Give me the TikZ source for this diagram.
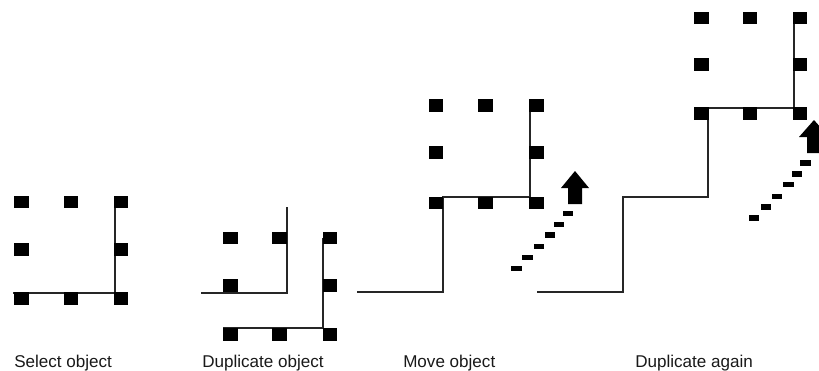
\documentclass[tikz,border=0pt]{standalone}
\usepackage{fontspec}
\setmainfont{Liberation Sans}

\tikzset{
  handle/.style={fill=black, inner sep=0pt, minimum width=10.9pt, minimum height=9.4pt},
  trail/.style={fill=black, inner sep=0pt, minimum width=7.9pt, minimum height=4.1pt},
  edge/.style={line width=0.9pt, black!85},
  caption/.style={anchor=base west, inner sep=0pt, text=black!90, font=\fontsize{12.8}{15}\selectfont}
}

\begin{document}
\begin{tikzpicture}[x=0.75pt, y=-0.75pt]
  \useasboundingbox (0,0) rectangle (819,371);
  \clip (0,0) rectangle (819,371);

  % select object
  \coordinate (sA) at (13,293);
  \coordinate (sB) at (115,293);
  \coordinate (sC) at (115,202);
  \draw[edge] (sA) -- (sB) -- (sC);
  \foreach \x/\y [count=\i] in {21.5/202, 71/202, 121/202, 21.5/249.5, 121/249.5, 21.5/298.5, 71/298.5, 121/298.5}
    \node[handle] (sel\i) at (\x,\y) {};

  % duplicate object
  \coordinate (dA) at (201,293);
  \coordinate (dB) at (287,293);
  \coordinate (dC) at (287,207);
  \draw[edge] (dA) -- (dB) -- (dC);
  \coordinate (cA) at (223,328);
  \coordinate (cB) at (323,328);
  \coordinate (cC) at (323,238);
  \draw[edge] (cA) -- (cB) -- (cC);
  \foreach \x/\y [count=\i] in {230.5/238, 279.5/238, 330/238, 230.5/285.5, 330/285.5, 230.5/334.5, 279.5/334.5, 330/334.5}
    \node[handle] (dup\i) at (\x,\y) {};

  % move object
  \coordinate (mA) at (357,292);
  \coordinate (mB) at (443,292);
  \coordinate (mC) at (443,197);
  \coordinate (mD) at (530,197);
  \coordinate (mE) at (530,105);
  \draw[edge] (mA) -- (mB) -- (mC) -- (mD) -- (mE);
  \foreach \x/\y [count=\i] in {436/105.5, 485.5/105.5, 536.5/105.5, 436/152.5, 536.5/152.5, 436/203, 485.5/203, 536.5/203}
    \node[handle] (mov\i) at (\x,\y) {};
  \foreach \x/\y [count=\i] in {568/213.5, 559/224.5, 550/235, 539/246.5, 527.5/257.5, 516.5/268.5}
    \node[trail] (mt\i) at (\x,\y) {};
  \coordinate (mTip) at (575,171);
  \fill (mTip) -- ++(14,17) -- ++(-7,0) -- ++(0,16) -- ++(-14,0) -- ++(0,-16) -- ++(-7,0) -- cycle;

  % duplicate again
  \coordinate (aA) at (537,292);
  \coordinate (aB) at (623,292);
  \coordinate (aC) at (623,197);
  \coordinate (aD) at (708,197);
  \coordinate (aE) at (708,108);
  \coordinate (aF) at (794,108);
  \coordinate (aG) at (794,15);
  \draw[edge] (aA) -- (aB) -- (aC) -- (aD) -- (aE) -- (aF) -- (aG);
  \foreach \x/\y [count=\i] in {701.5/18, 750/18, 800/18, 701.5/64.5, 800/64.5, 701.5/113.5, 750/113.5, 800/113.5}
    \node[handle] (agn\i) at (\x,\y) {};
  \foreach \x/\y [count=\i] in {805.7/163, 797/174, 788.5/184.5, 777/196.7, 766/207, 754/218}
    \node[trail] (at\i) at (\x,\y) {};
  \coordinate (aTip) at (814,120);
  \fill (aTip) -- ++(15,17) -- ++(-8,0) -- ++(0,16) -- ++(-14,0) -- ++(0,-16) -- ++(-8,0) -- cycle;

  % captions
  \node[caption] (capSel) at (14,367) {Select object};
  \node[caption] (capDup) at (202,367) {Duplicate object};
  \node[caption] (capMov) at (403,367) {Move object};
  \node[caption] (capAgn) at (635,367) {Duplicate again};
\end{tikzpicture}
\end{document}
